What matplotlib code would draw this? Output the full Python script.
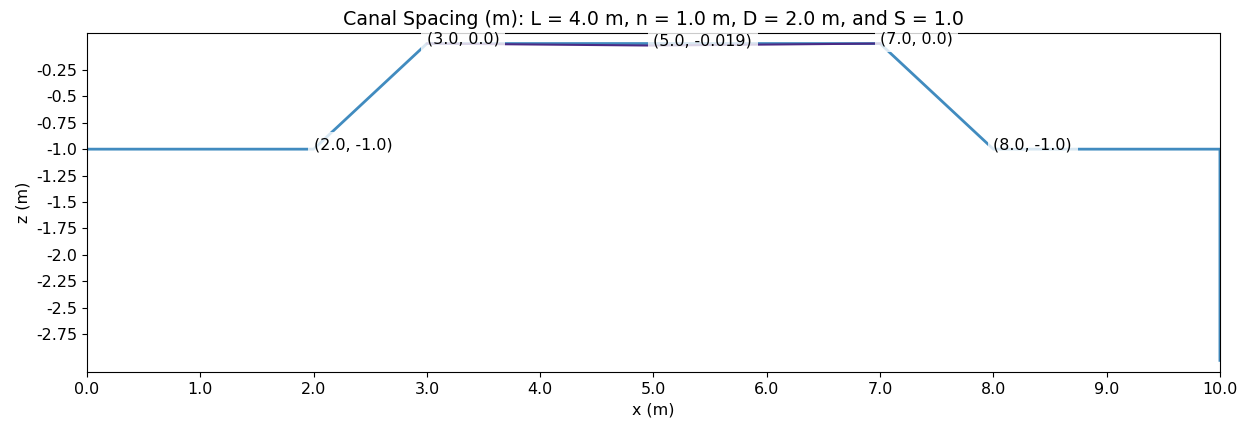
import matplotlib
matplotlib.use("Agg")
import matplotlib.pyplot as plt

# canal cross-section geometry (m)
surface_x = [0.0, 2.0, 3.0, 7.0, 8.0, 10.0, 10.0]
surface_z = [-1.0, -1.0, 0.0, 0.0, -1.0, -1.0, -3.0]

# water table between canals
water_x = [3.0, 5.0, 7.0]
water_z = [0.0, -0.019, 0.0]

# labelled points
label_x = [2.0, 3.0, 5.0, 7.0, 8.0]
label_z = [-1.0, 0.0, -0.019, 0.0, -1.0]

xtick_vals = [0.0, 1.0, 2.0, 3.0, 4.0, 5.0, 6.0, 7.0, 8.0, 9.0, 10.0]
ytick_vals = [-0.25, -0.5, -0.75, -1.0, -1.25, -1.5, -1.75, -2.0, -2.25, -2.5, -2.75]

L, n, D, S = 4.0, 1.0, 2.0, 1.0

plt.rcParams["font.size"] = 11.4
plt.rcParams["axes.titlesize"] = 13.7
plt.rcParams["axes.labelsize"] = 11.4

fig = plt.figure(figsize=(12.47, 4.25), dpi=100)
ax = fig.add_axes([0.0698, 0.1247, 0.9085, 0.7977])

ax.plot(surface_x, surface_z, color="#1f77b4", lw=2, alpha=0.85)
ax.plot(water_x, water_z, color="#4b2a85", lw=1.5)

for x, z in zip(label_x, label_z):
    ax.text(x, z, f"({x}, {z})", fontsize=11.4,
            bbox=dict(facecolor="white", edgecolor="none", alpha=0.8))

ax.set_xlim(0, 10)
ax.set_ylim(-3.11, 0.1)
ax.set_xticks(xtick_vals)
ax.set_xticklabels([str(v) for v in xtick_vals])
ax.set_yticks(ytick_vals)
ax.set_yticklabels([str(v) for v in ytick_vals])
ax.set_xlabel("x (m)")
ax.set_ylabel("z (m)")
ax.set_title(f"Canal Spacing (m): L = {L} m, n = {n} m, D = {D} m, and S = {S}")

fig.savefig("out.png", dpi=100)
